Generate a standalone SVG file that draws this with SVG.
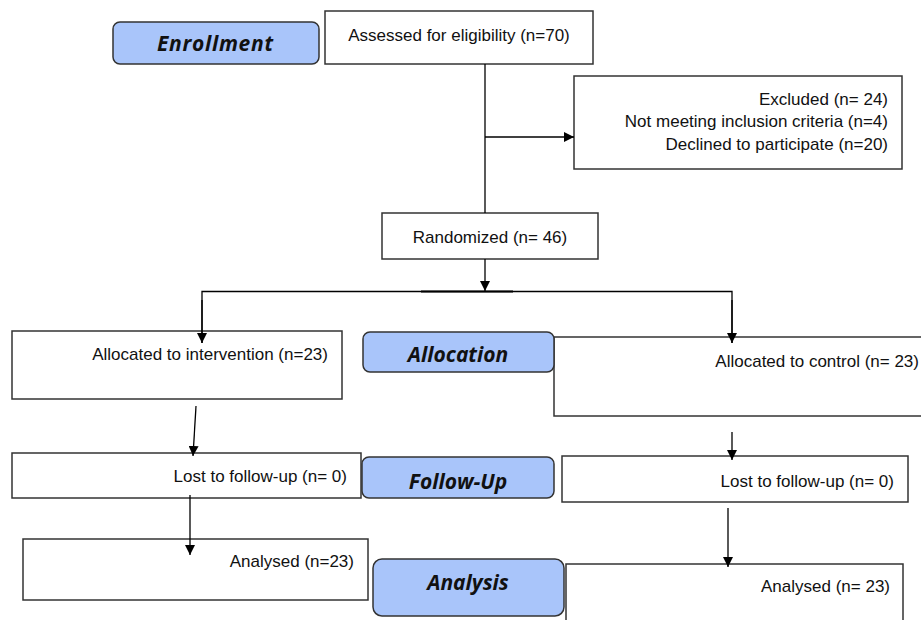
<svg xmlns="http://www.w3.org/2000/svg" width="921" height="620" viewBox="0 0 921 620">
<style>
.box{fill:#fff;stroke:#333;stroke-width:1.5}
.stage{fill:#a9c5fa;stroke:#333;stroke-width:1.5}
.t{font-family:"Liberation Sans",Arial,sans-serif;font-size:17px;fill:#111}
.lab{font-family:"Open Sans","Noto Sans",sans-serif;font-size:21px;font-weight:bold;font-style:italic;fill:#111;text-anchor:middle}
.ln{stroke:#000;stroke-width:1.3;fill:none}
</style>
<defs>
<marker id="ah" viewBox="0 0 10 10" refX="10" refY="5" markerWidth="10" markerHeight="10" markerUnits="userSpaceOnUse" orient="auto">
<path d="M0,0 L10,5 L0,10 Z" fill="#000"/>
</marker>
</defs>
<rect width="921" height="620" fill="#fff"/>
<g id="assessed"><rect class="box" x="325" y="11" width="268" height="53"/><text class="t" x="459" y="41" text-anchor="middle">Assessed for eligibility (n=70)</text></g>
<g id="enrollment"><rect class="stage" x="113" y="22" width="206" height="42" rx="7"/><text class="lab" x="215" y="51" textLength="116">Enrollment</text></g>
<g id="excluded"><rect class="box" x="574" y="76" width="328" height="93"/>
<text class="t" x="888" y="105" text-anchor="end">Excluded (n= 24)</text>
<text class="t" x="888" y="127" text-anchor="end">Not meeting inclusion criteria (n=4)</text>
<text class="t" x="888" y="150" text-anchor="end">Declined to participate (n=20)</text></g>
<g id="randomized"><rect class="box" x="382" y="213" width="216" height="46"/><text class="t" x="490" y="243" text-anchor="middle">Randomized (n= 46)</text></g>
<g id="intervention"><rect class="box" x="12" y="331" width="330" height="68"/><text class="t" x="328" y="360" text-anchor="end">Allocated to intervention (n=23)</text></g>
<g id="control"><rect class="box" x="554" y="337" width="380" height="79"/><text class="t" x="919" y="367" text-anchor="end">Allocated to control (n= 23)</text></g>
<g id="allocation"><rect class="stage" x="363" y="332" width="191" height="40" rx="7"/><text class="lab" x="458" y="362">Allocation</text></g>
<g id="lost-int"><rect class="box" x="12" y="453" width="349" height="45"/><text class="t" x="347" y="482" text-anchor="end">Lost to follow-up (n= 0)</text></g>
<g id="followup"><rect class="stage" x="362" y="457" width="192" height="41" rx="7"/><text class="lab" x="458" y="489">Follow-Up</text></g>
<g id="lost-ctl"><rect class="box" x="562" y="456" width="346" height="46"/><text class="t" x="894" y="487" text-anchor="end">Lost to follow-up (n= 0)</text></g>
<g id="analysed-int"><rect class="box" x="23" y="539" width="345" height="61"/><text class="t" x="354" y="567" text-anchor="end">Analysed (n=23)</text></g>
<g id="analysis"><rect class="stage" x="373" y="559" width="191" height="57" rx="9"/><text class="lab" x="468" y="590">Analysis</text></g>
<g id="analysed-ctl"><rect class="box" x="566" y="564" width="337" height="70"/><text class="t" x="890" y="592" text-anchor="end">Analysed (n= 23)</text></g>
<g id="connectors">
<line class="ln" x1="485" y1="64" x2="485" y2="213"/>
<line class="ln" x1="485" y1="137" x2="574" y2="137" marker-end="url(#ah)"/>
<line class="ln" x1="485" y1="259" x2="485" y2="291" marker-end="url(#ah)"/>
<polyline class="ln" points="202,343 202,291.5 732,291.5 732,343"/>
<line stroke="#000" stroke-width="2.2" x1="421" y1="291.5" x2="513" y2="291.5"/>
<line class="ln" x1="202" y1="300" x2="202" y2="343" marker-end="url(#ah)"/>
<line class="ln" x1="732" y1="300" x2="732" y2="343" marker-end="url(#ah)"/>
<line class="ln" x1="196" y1="406" x2="193" y2="456" marker-end="url(#ah)"/>
<line class="ln" x1="190" y1="495" x2="190" y2="555" marker-end="url(#ah)"/>
<line class="ln" x1="732" y1="432" x2="732" y2="460" marker-end="url(#ah)"/>
<line class="ln" x1="728" y1="508" x2="728" y2="567" marker-end="url(#ah)"/>
</g>
</svg>
